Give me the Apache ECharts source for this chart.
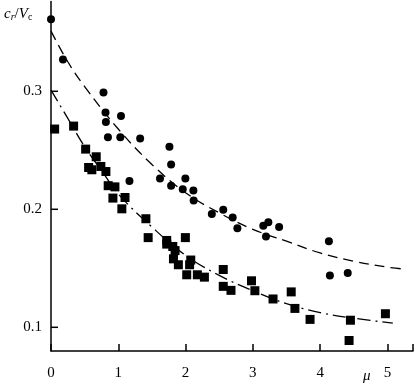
<!DOCTYPE html>
<html><head><meta charset="utf-8">
<script src="https://cdn.jsdelivr.net/npm/echarts@6/dist/echarts.min.js"></script>
<style>html,body{margin:0;padding:0;background:#fff}#c{width:415px;height:385px}</style>
</head><body><div id="c"></div>
<script>
var circleX = [0.0,0.178,0.78,0.81,0.816,1.04,0.846,1.03,1.325,1.76,1.785,1.166,1.62,1.785,1.997,1.958,2.116,2.12,2.39,2.56,2.70,2.77,3.155,3.23,3.39,3.195,4.13,4.145,4.41];
var circleY = [0.361,0.327,0.299,0.282,0.274,0.279,0.261,0.261,0.260,0.253,0.238,0.224,0.226,0.220,0.226,0.217,0.216,0.2075,0.196,0.1996,0.193,0.184,0.186,0.189,0.185,0.177,0.173,0.144,0.146];
var squareX = [0.054,0.336,0.515,0.672,0.559,0.607,0.741,0.816,0.85,0.95,0.92,1.10,1.053,1.41,1.444,1.72,1.997,1.72,1.81,1.844,1.82,2.077,1.893,2.06,2.017,2.175,2.28,2.56,2.56,2.675,2.98,3.03,3.30,3.57,3.625,3.85,4.45,4.43,4.97];
var squareY = [0.268,0.2705,0.251,0.2445,0.2354,0.2335,0.2363,0.232,0.220,0.219,0.2095,0.210,0.2004,0.192,0.176,0.1736,0.176,0.1705,0.1685,0.165,0.158,0.157,0.153,0.153,0.1445,0.1445,0.1425,0.149,0.1347,0.1313,0.1394,0.131,0.124,0.130,0.116,0.1067,0.106,0.0888,0.1115];
var dashCurveX = [0,0.25,0.5,1.0,1.5,2.0,2.5,3.0,3.5,4.0,4.5,5.0,5.2];
var dashCurveY = [0.351,0.325,0.304,0.268,0.238,0.214,0.197,0.183,0.173,0.163,0.156,0.151,0.1496];
var dotDashCurveX = [0,0.25,0.5,0.75,1.0,1.5,2.0,2.5,3.0,3.5,4.0,4.5,5.08];
var dotDashCurveY = [0.301,0.277,0.253,0.233,0.213,0.185,0.161,0.144,0.131,0.120,0.1125,0.1077,0.1036];
var xTicks = [0,1,2,3,4,5];
var yTicks = [0.1,0.2,0.3];

function pairs(xs, ys){ return xs.map(function(x,i){return [x, ys[i]];}); }
var font = "'Liberation Serif', 'Times New Roman', serif";
var chart = echarts.init(document.getElementById('c'), null, {renderer:'canvas'});
chart.setOption({
  animation:false,
  backgroundColor:'#fff',
  grid:{left:51, right:2, top:1.6, bottom:34.1, containLabel:false},
  xAxis:{type:'value', min:0, max:5.38, interval:1,
    axisLine:{show:true, onZero:false, lineStyle:{color:'#000', width:1.5}},
    axisTick:{show:true, inside:true, length:7, lineStyle:{color:'#000', width:1.5}},
    axisLabel:{customValues:xTicks, color:'#000', fontFamily:font, fontSize:15, margin:15,
      formatter:function(v){return String(Math.round(v));}},
    splitLine:{show:false}},
  yAxis:{type:'value', min:0.08, max:0.376,
    axisLine:{show:true, onZero:false, lineStyle:{color:'#000', width:1.5}},
    axisTick:{show:false},
    axisLabel:{customValues:yTicks, color:'#000', fontFamily:font, fontSize:15, margin:9,
      formatter:function(v){return v.toFixed(1);}},
    splitLine:{show:false}},
  graphic:[
    {type:'text', left:4, top:7, style:{rich:{
        i:{fontFamily:font, fontStyle:'italic', fontSize:15, fill:'#000'},
        si:{fontFamily:font, fontStyle:'italic', fontSize:10, fill:'#000', padding:[6,0,0,0]},
        n:{fontFamily:font, fontSize:15, fill:'#000'},
        s:{fontFamily:font, fontSize:10, fill:'#000', padding:[6,0,0,0]}
      }, text:'{i|c}{si|r}{n|/}{i|V}{s|c}'}},
    {type:'text', left:363, top:369, style:{text:'μ', fontFamily:font, fontStyle:'italic', fontSize:15, fill:'#000'}}
  ],
  series:[
    {type:'custom', data:yTicks.map(function(v){return [0, v];}), clip:false, silent:true, z:2,
      renderItem:function(params, api){
        var p = api.coord([api.value(0), api.value(1)]);
        return {type:'line', shape:{x1:p[0], y1:p[1], x2:p[0]+7, y2:p[1]},
          style:{stroke:'#000', lineWidth:1.5}};
      }},
    {type:'line', data:pairs(dashCurveX, dashCurveY), smooth:0.4, showSymbol:false, symbol:'none',
      lineStyle:{color:'#000', width:1.3, type:[10,6]}, z:3},
    {type:'line', data:pairs(dotDashCurveX, dotDashCurveY), smooth:0.4, showSymbol:false, symbol:'none',
      lineStyle:{color:'#000', width:1.3, type:[13,5,2,5]}, z:3},
    {type:'scatter', data:pairs(circleX, circleY), symbol:'circle', symbolSize:8, clip:false,
      itemStyle:{color:'#000', opacity:1}, z:5},
    {type:'scatter', data:pairs(squareX, squareY), symbol:'rect', symbolSize:9, clip:false,
      itemStyle:{color:'#000', opacity:1}, z:5}
  ]
});
</script></body></html>
